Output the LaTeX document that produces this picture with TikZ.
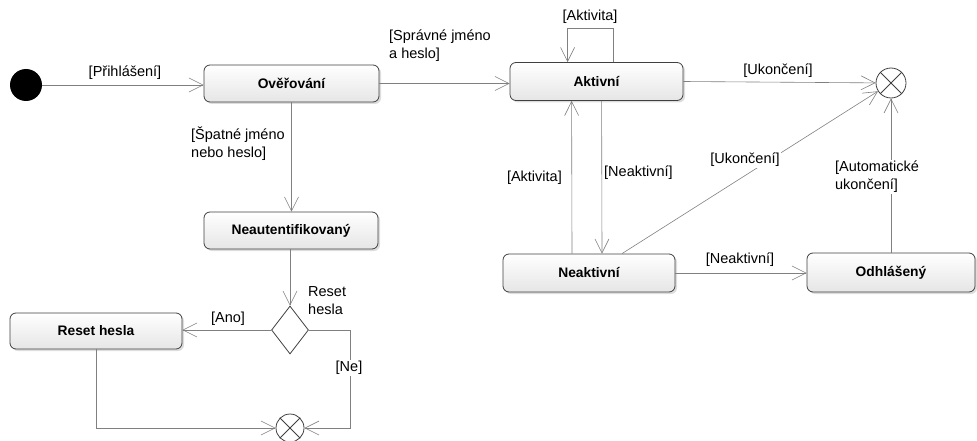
\documentclass[tikz,border=0pt]{standalone}
\usepackage{fontspec}
\setmainfont{Liberation Sans}
\usetikzlibrary{arrows.meta,shapes.geometric,shadows,calc}
\definecolor{wire}{RGB}{128,128,128}
\definecolor{frame}{RGB}{64,64,64}
\begin{document}
\begin{tikzpicture}[x=1pt,y=-1pt,
  every node/.style={font=\fontsize{14.5}{18}\selectfont},
  state/.style={draw=frame, line width=0.8pt, rounded corners=6pt,
    top color=white, bottom color=gray!20, inner sep=0pt,
    drop shadow={shadow xshift=2pt, shadow yshift=-2pt, fill=gray!45, opacity=0.6},
    font=\fontsize{13.8}{18}\selectfont\bfseries},
  arr/.style={draw=wire, line width=0.6pt,
    -{Straight Barb[length=14pt, width=14pt, line width=0.6pt]}},
  guard/.style={inner sep=1pt},
  finalnode/.style={circle, draw=frame, line width=0.8pt, fill=white, inner sep=0pt}
]
\useasboundingbox (0,0) rectangle (977,441);

% states
\node[circle, fill=black, minimum size=32pt, inner sep=0pt] (init) at (26,85) {};
\node[state, minimum width=175pt, minimum height=37pt] (ov) at (291.5,83.5) {Ověřování};
\node[state, minimum width=173pt, minimum height=38pt] (akt) at (596.5,81.5) {Aktivní};
\node[state, minimum width=172pt, minimum height=38pt] (neak) at (589,273) {Neaktivní};
\node[state, minimum width=168pt, minimum height=39pt] (odh) at (891,272.5) {Odhlášený};
\node[state, minimum width=174pt, minimum height=37pt] (neaut) at (291,230.5) {Neautentifikovaný};
\node[state, minimum width=172pt, minimum height=36pt] (reset) at (96,331) {Reset hesla};
\node[diamond, draw=frame, line width=0.8pt, fill=white, inner sep=0pt, aspect=0.77,
      minimum width=37pt, minimum height=48pt] (dec) at (290,330) {};

% final states
\node[finalnode, minimum size=30pt] (fin1) at (891,83) {};
\draw[frame, line width=0.8pt] (fin1.45) -- (fin1.-135) (fin1.135) -- (fin1.-45);
\node[finalnode, minimum size=28pt] (fin2) at (290,428) {};
\draw[frame, line width=0.8pt] (fin2.45) -- (fin2.-135) (fin2.135) -- (fin2.-45);

% transitions
\draw[arr] (init) -- (ov.west |- init);
\node[guard] (gPrih) at (125,73) {[Přihlášení]};

\draw[arr] (ov.east) -- (ov.east -| akt.west);
\node[guard, anchor=north west, align=left] (gSpr) at (388,29) {[Správné jméno\\a heslo]};

\draw[arr] ([xshift=104pt]akt.north west) -- ++(0,-34) -| ([xshift=58pt]akt.north west);
\node[guard] (gAkt1) at (590,17) {[Aktivita]};

\draw[arr] (akt.east) -- (fin1);
\node[guard] (gUk1) at (778,71) {[Ukončení]};

\draw[arr] ([xshift=92pt]akt.south west) -- (neak.north -| {602,0});
\node[guard, anchor=west] (gNeak1) at (603,173) {[Neaktivní]};

\draw[arr] (neak.north -| {572,0}) -- ([xshift=62pt]akt.south west);
\node[guard, anchor=east] (gAkt2) at (563,178) {[Aktivita]};

\draw[arr] (neak.north -| {622,0}) -- (fin1);
\node[guard, fill=white] (gUk2) at (745,160) {[Ukončení]};

\draw[arr] (neak.east) -- (neak.east -| odh.west);
\node[guard] (gNeak2) at (740,260) {[Neaktivní]};

\draw[arr] (odh.north -| fin1) -- (fin1);
\node[guard, fill=white, align=left] (gAuto) at (877,177) {[Automatické\\ukončení]};

\draw[arr] (ov.south) -- (neaut.north -| ov.south);
\node[guard, anchor=north west, align=left] (gSpat) at (190,126) {[Špatné jméno\\nebo heslo]};

\draw[arr] (neaut.south -| dec.north) -- (dec.north);
\node[guard, anchor=north west, align=left] (gRes) at (307,285) {Reset\\hesla};

\draw[arr] (dec.west) -- (dec.west -| reset.east);
\node[guard] (gAno) at (228,319) {[Ano]};

\draw[arr] (dec.east) -- ++(41,0) |- (fin2.east);
\node[guard, fill=white] (gNe) at (349,368) {[Ne]};

\draw[arr] (reset.south) |- (fin2.west);
\end{tikzpicture}
\end{document}
